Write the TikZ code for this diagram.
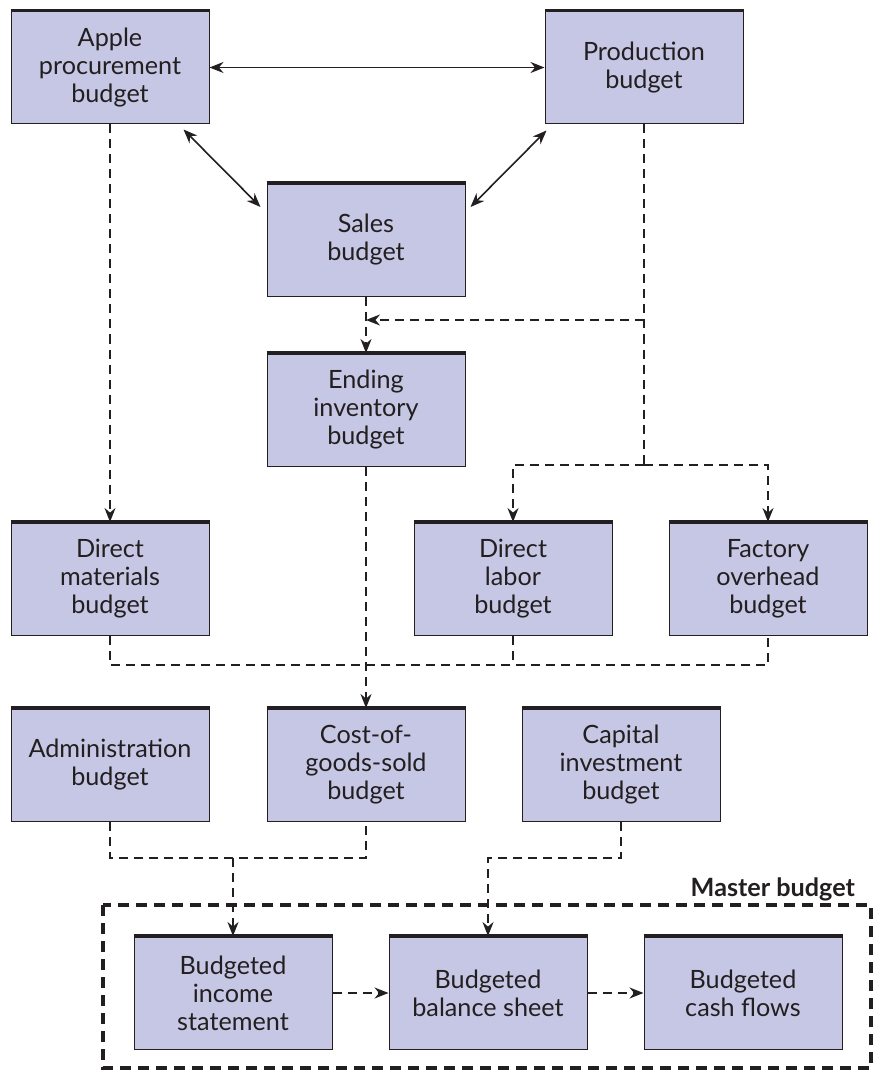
\documentclass[tikz,border=0pt]{standalone}
\usepackage{fontspec}
\setmainfont{Lato}
\usetikzlibrary{arrows.meta}
\definecolor{budgetfill}{RGB}{197,199,228}
\definecolor{budgetline}{RGB}{35,31,32}

\begin{document}
\begin{tikzpicture}[
     x = 0.5pt,
     y = -0.5pt,
     font = \fontsize{12.6}{14}\selectfont,
     >={Stealth[length=7pt,width=5.5pt]}
    ]
    \tikzstyle{budget}=[draw=budgetline, line width=0.5pt, fill=budgetfill, text=budgetline,
      minimum width=99pt, minimum height=56.5pt, inner sep=0pt, align=center]
    \tikzstyle{flow}=[draw=budgetline, line width=0.8pt, dash pattern=on 4.5pt off 3pt]
    \tikzstyle{link}=[draw=budgetline, line width=0.8pt, <->]

    \useasboundingbox (0,0) rectangle (882,1080);

    \node[budget] (apple) at (110,67.5) {Apple\\procurement\\budget};
    \node[budget] (prod) at (644,67.5) {Production\\budget};
    \node[budget] (sales) at (366,240) {Sales\\budget};
    \node[budget] (ending) at (366,410) {Ending\\inventory\\budget};
    \node[budget] (dmat) at (110,579) {Direct\\materials\\budget};
    \node[budget] (dlab) at (513,579) {Direct\\labor\\budget};
    \node[budget] (foh) at (768,579) {Factory\\overhead\\budget};
    \node[budget] (admin) at (110,765) {Administration\\budget};
    \node[budget] (cogs) at (366,765) {Cost-of-\\goods-sold\\budget};
    \node[budget] (capital) at (621,765) {Capital\\investment\\budget};
    \node[budget] (income) at (233,993) {Budgeted\\income\\statement};
    \node[budget] (balance) at (488,993) {Budgeted\\balance sheet};
    \node[budget] (cash) at (743,993) {Budgeted\\cash flows};

    % heavy top edge on every box
    \foreach \b in {apple,prod,sales,ending,dmat,dlab,foh,admin,cogs,capital,income,balance,cash}
      \draw[budgetline, line width=1.6pt] (\b.north west) -- (\b.north east);

    % master budget frame
    \draw[budgetline, line width=1.6pt, dash pattern=on 5.5pt off 3.5pt] (103,905) rectangle (871,1068);
    \node[anchor=base east, text=budgetline, font=\bfseries\fontsize{12.6}{14}\selectfont] (masterlabel) at (862,896) {Master budget};

    % two-way links at the top
    \draw[link] (apple) -- (prod);
    \draw[link] ([xshift=-13pt,yshift=-2.5pt]apple.south east) -- ([xshift=-3pt,yshift=-12pt]sales.north west);
    \draw[link] ([xshift=1pt,yshift=-3pt]prod.south west) -- ([xshift=2.5pt,yshift=-12pt]sales.north east);

    \coordinate (tap) at (644,320);
    \coordinate (split) at (644,465);
    \coordinate (merge) at (0,665);
    \coordinate (collect) at (233,858);

    \draw[flow,->] (apple) -- (dmat);
    \draw[flow,->] (sales) -- (ending);
    \draw[flow] (prod) -- (split);
    \draw[flow,->] (tap) -- (sales.south |- tap);
    \draw[flow,->] (split) -| (dlab);
    \draw[flow,->] (split) -| (foh);
    \draw[flow,->] (ending) -- (cogs);
    \draw[flow] (dmat) |- (foh.south |- merge) -- (foh);
    \draw[flow] (dlab) -- (dlab.south |- merge);
    \draw[flow] (admin) |- (cogs.south |- collect) -- (cogs);
    \draw[flow,->] (collect) -- (income);
    \draw[flow,->] (capital) |- (balance.north |- collect) -- (balance);
    \draw[flow,->] (income) -- (balance);
    \draw[flow,->] (balance) -- (cash);
   \end{tikzpicture}
\end{document}
